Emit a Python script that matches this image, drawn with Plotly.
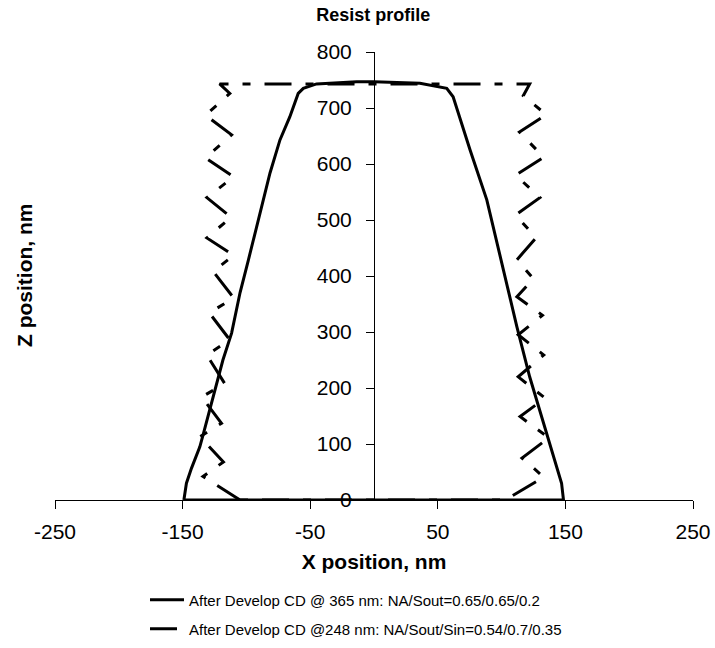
import plotly.graph_objects as go

# ---- Data ----
# Profile after develop, 365 nm exposure (solid line), x and z in nm
x_365 = [-149, -147, -143, -136.5, -134, -126, -118.4, -111.6, -105, -98.5, -90.6,
         -81.5, -73.7, -66, -59.4, -55.4, -45, -13.6, 0, 36, 57, 62, 75.3, 88.4,
         101.4, 112, 122, 135.5, 143, 147, 148.5, -149]
z_365 = [0, 30, 57, 95, 116, 184, 250, 298, 370, 428, 500,
         584, 643, 684, 726, 735, 743, 747, 747, 744, 735, 720, 625, 536,
         411, 309, 220, 119, 60, 30, 0, 0]

# Profile after develop, 248 nm exposure (dash-dot line with standing waves)
x_248 = [-105, -134, -118, -136.5, -119.5, -135, -117, -131, -113, -129, -110,
         -126, -110, -131, -112, -131, -110, -132, -111.6, -132, -113, -121,
         122, 117, 135, 114, 133, 111, 130, 111, 127, 112, 125, 112, 132, 113,
         133, 113, 134, 114.5, 137, 116, 133, 103, -105]
z_248 = [0, 42, 68, 113, 137, 184, 208, 259, 286, 334, 361,
         408, 437, 468, 505, 540, 577, 611, 652, 687, 726, 743,
         743, 722, 688, 657, 612, 580, 540, 509, 468, 429, 395, 363, 330, 295,
         259, 220, 182, 149, 111, 75, 41, 0, 0]

name_365 = "After Develop CD @ 365 nm: NA/Sout=0.65/0.65/0.2"
name_248 = "After Develop CD @248 nm: NA/Sout/Sin=0.54/0.7/0.35"

x_ticks = [-250, -150, -50, 50, 150, 250]
z_ticks = [0, 100, 200, 300, 400, 500, 600, 700, 800]

FONT = "Liberation Sans, Arial, sans-serif"

fig = go.Figure()
fig.add_trace(go.Scatter(x=x_365, y=z_365, mode="lines", name=name_365,
                         line=dict(color="black", width=3), legend="legend"))
fig.add_trace(go.Scatter(x=x_248, y=z_248, mode="lines", name=name_248,
                         line=dict(color="black", width=3, dash="27px,14px,8px,14px"),
                         legend="legend2"))

fig.update_layout(
    width=715, height=648,
    margin=dict(l=55, r=22, t=52, b=148, autoexpand=False),
    paper_bgcolor="white", plot_bgcolor="white",
    font=dict(family=FONT, color="black"),
    title=dict(text="<b>Resist profile</b>", x=0.522, xanchor="center",
               y=1 - 15 / 648, yanchor="middle", yref="container",
               font=dict(size=18, family=FONT)),
    xaxis=dict(range=[-250, 250], tickvals=x_ticks,
               ticktext=[str(v) for v in x_ticks],
               showline=True, linecolor="black", linewidth=1,
               ticks="outside", ticklen=8, tickcolor="black",
               showgrid=False, zeroline=False, automargin=False,
               tickfont=dict(size=21), ticklabelstandoff=5,
               title=dict(text="<b>X position, nm</b>", font=dict(size=21), standoff=12)),
    yaxis=dict(range=[0, 800], tickvals=z_ticks, anchor="free", position=0.5,
               showline=True, linecolor="black", linewidth=1,
               ticks="outside", ticklen=8, tickcolor="black",
               showgrid=False, zeroline=False, automargin=False,
               tickfont=dict(size=21), ticklabelstandoff=10),
    legend=dict(xref="container", yref="container", x=145 / 715, y=1 - 600 / 648,
                xanchor="left", yanchor="middle", bgcolor="rgba(0,0,0,0)",
                borderwidth=0, font=dict(size=15), itemwidth=34),
    legend2=dict(xref="container", yref="container", x=145 / 715, y=1 - 629 / 648,
                 xanchor="left", yanchor="middle", bgcolor="rgba(0,0,0,0)",
                 borderwidth=0, font=dict(size=15), itemwidth=34),
    showlegend=True,
    annotations=[dict(text="<b>Z position, nm</b>", xref="paper", yref="paper",
                      x=-31 / 638, y=0.5, xanchor="center", yanchor="middle",
                      textangle=-90, showarrow=False, font=dict(size=21, family=FONT))],
)

fig.write_html("out.html")
